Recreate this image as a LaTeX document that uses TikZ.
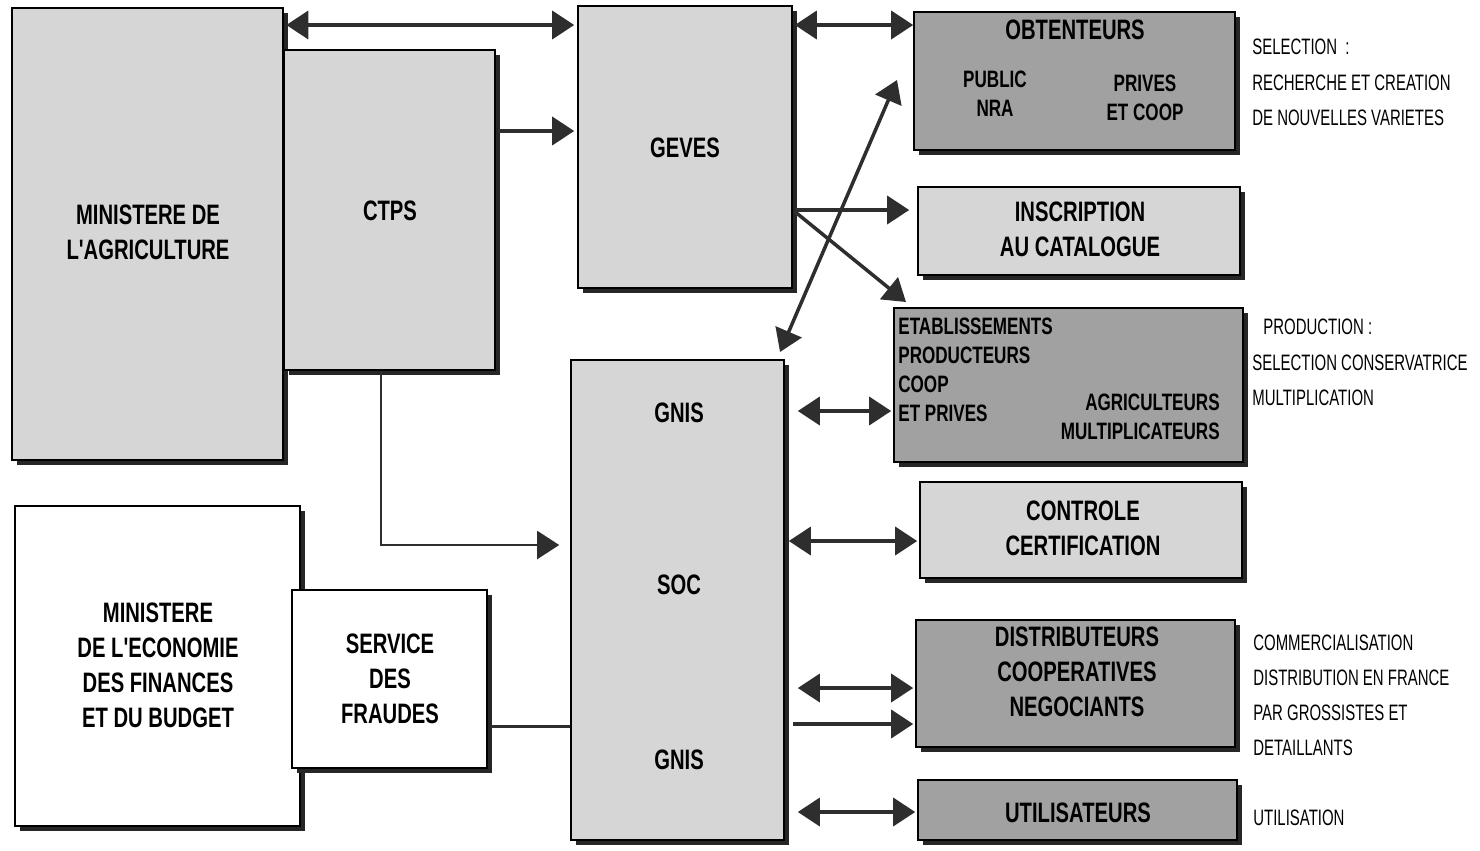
\documentclass[tikz,border=0pt]{standalone}
\usepackage{fontspec}
\usetikzlibrary{arrows.meta,fit,shadows}

\newfontfamily\boxfont{Liberation Sans}[FakeStretch=0.72]
\newfontfamily\sidefont{Liberation Sans}[FakeStretch=0.67]

\definecolor{lightgrey}{gray}{0.84}
\definecolor{darkgrey}{gray}{0.63}
\definecolor{arrowgrey}{gray}{0.18}

\tikzset{
	box/.style={draw=black, line width=0.9pt, inner sep=0pt,
		drop shadow={shadow xshift=0.1cm, shadow yshift=-0.1cm, fill=black!85, opacity=1}},
	lightbox/.style={box, fill=lightgrey},
	darkbox/.style={box, fill=darkgrey},
	whitebox/.style={box, fill=white},
	lbl/.style={font=\boxfont\bfseries\fontsize{16}{19.9}\selectfont, align=center, inner sep=0pt},
	smalllbl/.style={font=\boxfont\bfseries\fontsize{13.5}{16.5}\selectfont, inner sep=0pt},
	side/.style={font=\sidefont\fontsize{12.7}{15}\selectfont, anchor=west, inner sep=0pt},
	arr/.style={draw=arrowgrey, line width=2pt, -{Triangle[length=0.44cm, width=0.56cm]}},
	darr/.style={arr, {Triangle[length=0.44cm, width=0.56cm]}-{Triangle[length=0.44cm, width=0.56cm]}}
}

\begin{document}
\begin{tikzpicture}[x=0.02cm, y=-0.02cm]
	\useasboundingbox (0,0) rectangle (1480,850);
	
	% ministeres
	\node[lightbox, fit={(12,8) (283,460)}] (agri) {};
	\node[lbl] (agritxt) at (148,232) {MINISTERE DE\\L'AGRICULTURE};
	\node[lightbox, fit={(284,50) (495,370)}] (ctps) {};
	\node[lbl] (ctpstxt) at (390,211) {CTPS};
	
	\node[whitebox, fit={(15,506) (300,826)}] (eco) {};
	\node[lbl] (ecotxt) at (158,665) {MINISTERE\\DE L'ECONOMIE\\DES FINANCES\\ET DU BUDGET};
	\node[whitebox, fit={(292,590) (487,768)}] (fraudes) {};
	\node[lbl] (fraudestxt) at (390,679) {SERVICE\\DES\\FRAUDES};
	
	% milieu
	\node[lightbox, fit={(578,6) (792,288)}] (geves) {};
	\node[lbl] (gevestxt) at (685,148) {GEVES};
	\node[lightbox, fit={(571,360) (784,840)}] (gnis) {};
	\node[lbl] (gnistxt) at (679,413) {GNIS};
	\node[lbl] (soctxt) at (679,585) {SOC};
	\node[lbl] (gnisbtxt) at (679,760) {GNIS};
	
	% droite
	\node[darkbox, fit={(914,12) (1235,150)}] (obt) {};
	\node[lbl] (obttxt) at (1075,30) {OBTENTEURS};
	\node[smalllbl, align=center] (publictxt) at (995,94) {PUBLIC\\NRA};
	\node[smalllbl, align=center] (privestxt) at (1145,98) {PRIVES\\ET COOP};
	
	\node[lightbox, fit={(918,187) (1240,275)}] (insc) {};
	\node[lbl] (insctxt) at (1080,229) {INSCRIPTION\\AU CATALOGUE};
	
	\node[darkbox, fit={(894,308) (1243,462)}] (etab) {};
	\node[smalllbl, align=left, anchor=west] (etabtxt) at (898,370) {ETABLISSEMENTS\\PRODUCTEURS\\COOP\\ET PRIVES};
	\node[smalllbl, align=right, anchor=east] (agritxtb) at (1220,417) {AGRICULTEURS\\MULTIPLICATEURS};
	
	\node[lightbox, fit={(920,482) (1242,578)}] (ctrl) {};
	\node[lbl] (ctrltxt) at (1083,528) {CONTROLE\\CERTIFICATION};
	
	\node[darkbox, fit={(916,620) (1235,747)}] (dist) {};
	\node[lbl] (disttxt) at (1077,672) {DISTRIBUTEURS\\COOPERATIVES\\NEGOCIANTS};
	
	\node[darkbox, fit={(918,780) (1237,840)}] (util) {};
	\node[lbl] (utiltxt) at (1078,813) {UTILISATEURS};
	
	% textes a droite
	\node[side] (sel1) at (1252,47) {SELECTION~~:};
	\node[side] (sel2) at (1252,83) {RECHERCHE ET CREATION};
	\node[side] (sel3) at (1252,118) {DE NOUVELLES VARIETES};
	\node[side] (prod1) at (1263,327) {PRODUCTION :};
	\node[side] (prod2) at (1252,363) {SELECTION CONSERVATRICE};
	\node[side] (prod3) at (1252,398) {MULTIPLICATION};
	\node[side] (com1) at (1253,643) {COMMERCIALISATION};
	\node[side] (com2) at (1253,678) {DISTRIBUTION EN FRANCE};
	\node[side] (com3) at (1253,713) {PAR GROSSISTES ET};
	\node[side] (com4) at (1253,748) {DETAILLANTS};
	\node[side] (util1) at (1253,818) {UTILISATION};
	
	\coordinate (etabtip) at (906,302);
	\coordinate (obtin) at (897,80);
	\coordinate (gnistop) at (780,352);
	
	% fleches
	\draw[darr, shorten <=0.05cm, shorten >=0.06cm] (agri.east |- 0,25) -- (geves.west |- 0,25);
	\draw[arr, shorten <=0.04cm, shorten >=0.06cm] (ctps.east |- 0,131) -- (geves.west |- 0,131);
	\draw[darr, shorten <=0.04cm] (geves.east |- 0,25) -- (obt.west |- 0,25);
	\draw[arr, shorten <=0.04cm, shorten >=0.16cm] (geves.east |- 0,210) -- (insc.west |- 0,210);
	\draw[arr, shorten <=0.04cm] (geves.east |- 0,210) -- (etabtip);
	\draw[darr] (gnistop) -- (obtin);
	\draw[darr, shorten <=0.26cm, shorten >=0.04cm] (gnis.east |- 0,411) -- (etab.west |- 0,411);
	\draw[arr, line width=1.2pt, shorten >=0.22cm] (ctps.south -| 381,0) |- (gnis.west |- 0,545);
	\draw[darr, shorten <=0.08cm, shorten >=0.04cm] (gnis.east |- 0,541) -- (ctrl.west |- 0,541);
	\draw[darr, shorten <=0.26cm, shorten >=0.04cm] (gnis.east |- 0,688) -- (dist.west |- 0,688);
	\draw[arr, shorten <=0.16cm, shorten >=0.04cm] (gnis.east |- 0,724) -- (dist.west |- 0,724);
	\draw[darr, shorten <=0.26cm, shorten >=0.04cm] (gnis.east |- 0,812) -- (util.west |- 0,812);
	\draw[draw=arrowgrey, line width=1.7pt, shorten <=0.06cm] (fraudes.east |- 0,726) -- (gnis.west |- 0,726);
\end{tikzpicture}
\end{document}
